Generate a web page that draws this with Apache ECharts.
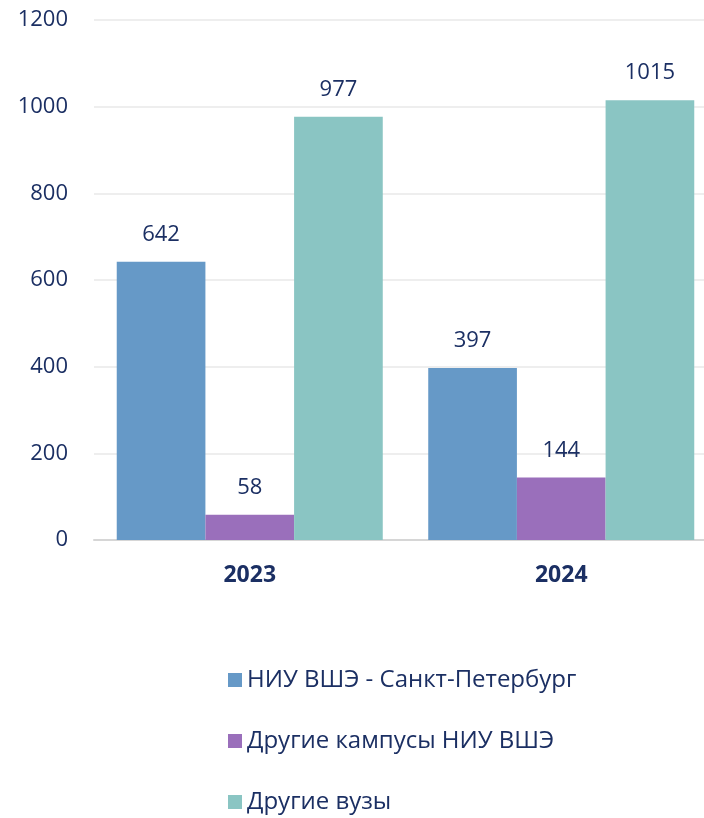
<!DOCTYPE html>
<html>
<head>
<meta charset="utf-8">
<script src="https://cdn.jsdelivr.net/npm/echarts@6/dist/echarts.min.js"></script>
<style>
  html, body { margin: 0; padding: 0; background: #fff; overflow: hidden; }
  /* canvas is a little wider than the window: the plot area is cut off at the right, as in the original */
  #chart { width: 718px; height: 818px; }
</style>
</head>
<body>
<div id="chart"></div>
<script>
var years = ['2023', '2024'];
var seriesNames = ['НИУ ВШЭ - Санкт-Петербург', 'Другие кампусы НИУ ВШЭ', 'Другие вузы'];
var spbValues = [642, 397];
var campusValues = [58, 144];
var otherValues = [977, 1015];
var colors = ['#6699C7', '#9A6FBB', '#8AC5C3'];
var textColor = '#1B2F63';
var font = 'Open Sans';

var chart = echarts.init(document.getElementById('chart'));

function makeSeries(name, values, color) {
    return {
        name: name,
        type: 'bar',
        data: values,
        barGap: '0%',
        barCategoryGap: '14.6%',
        itemStyle: { color: color },
        label: {
            show: true,
            position: 'top',
            distance: 16,
            color: textColor,
            fontFamily: font,
            fontSize: 22
        }
    };
}

// one legend per item so they stack with wide spacing
function makeLegend(name, top) {
    return {
        orient: 'vertical',
        left: 228,
        top: top,
        padding: 0,
        itemWidth: 14,
        itemHeight: 14,
        icon: 'rect',
        textStyle: { color: textColor, fontFamily: font, fontSize: 24, lineHeight: 26 },
        data: [name]
    };
}

var option = {
    animation: false,
    grid: { left: 94, right: 1, top: 20, bottom: 278 },
    legend: [
        makeLegend(seriesNames[0], 667),
        makeLegend(seriesNames[1], 728),
        makeLegend(seriesNames[2], 789)
    ],
    xAxis: {
        type: 'category',
        data: years,
        axisLine: { lineStyle: { color: '#d6d6d6', width: 2 } },
        axisTick: { show: false },
        axisLabel: { color: textColor, fontFamily: font, fontSize: 23, fontWeight: 'bold', margin: 24 }
    },
    yAxis: {
        type: 'value',
        min: 0,
        max: 1200,
        interval: 200,
        axisLine: { show: false },
        axisTick: { show: false },
        splitLine: { lineStyle: { color: '#e8e8e8', width: 1.5 } },
        axisLabel: {
            color: textColor, fontFamily: font, fontSize: 22, margin: 26,
            formatter: function (v) { return String(v); }
        }
    },
    series: [
        makeSeries(seriesNames[0], spbValues, colors[0]),
        makeSeries(seriesNames[1], campusValues, colors[1]),
        makeSeries(seriesNames[2], otherValues, colors[2])
    ]
};

chart.setOption(option);
</script>
</body>
</html>
